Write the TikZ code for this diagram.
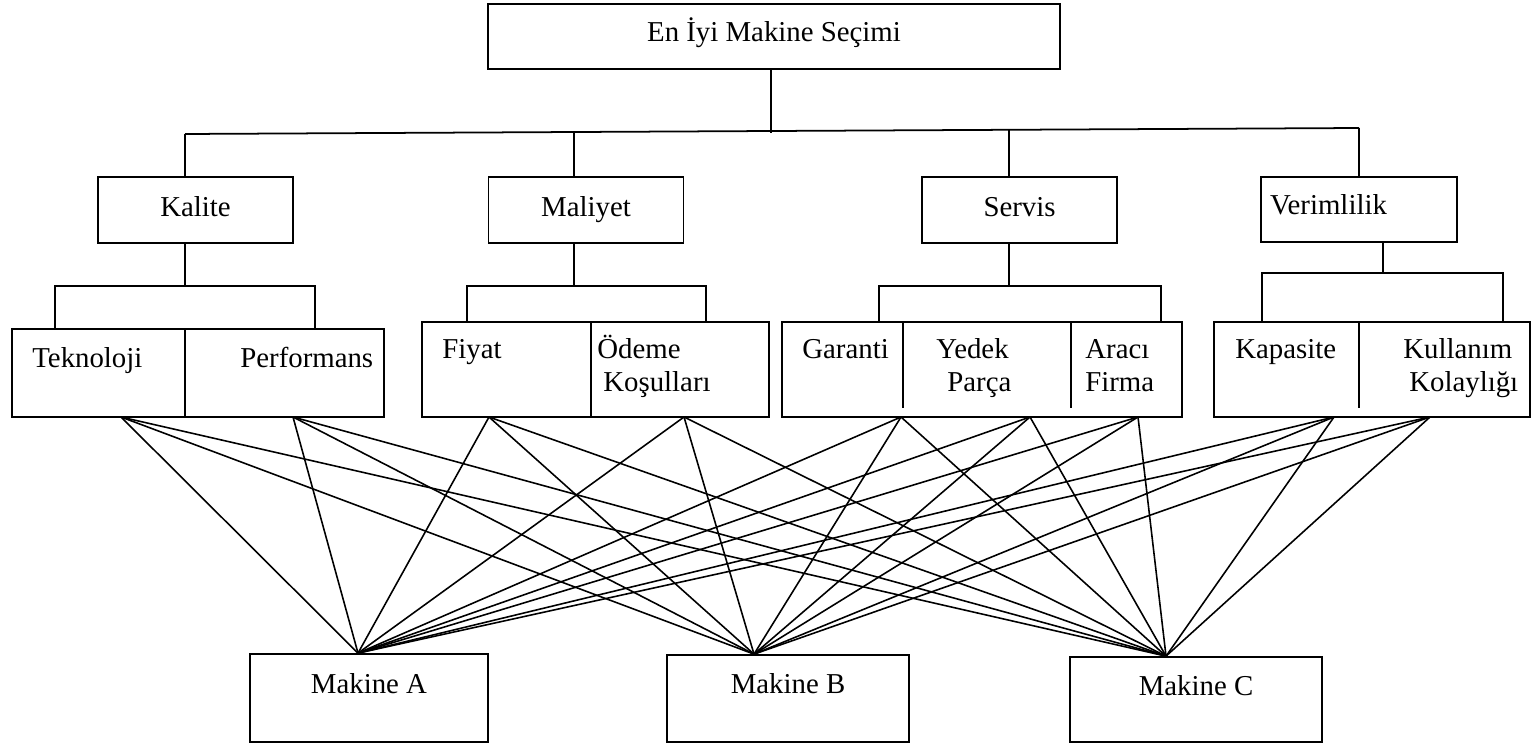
\documentclass[tikz,border=0pt]{standalone}
\usepackage{fontspec}
\setmainfont{Liberation Serif}
\usetikzlibrary{positioning}
\tikzset{box/.style = {draw, line width=1pt, inner sep=0pt,
                       font=\rmfamily\fontsize{16.4}{18.8}\selectfont}}
\tikzset{lbl/.style = {anchor=base west, inner sep=0pt,
                       font=\rmfamily\fontsize{16.4}{18.8}\selectfont}}
\tikzset{tree/.style = {line width=1pt}}
\tikzset{link/.style = {line width=0.9pt}}

\begin{document}
\begin{tikzpicture}[x=0.02cm, y=-0.02cm]
      \useasboundingbox (0, 0) rectangle (1533, 743);
      \node [box, minimum width=11.44cm, text height=0.76cm, text depth=0.54cm] (goal) at (774, 36.5) {En İyi Makine Seçimi};
      \node [box, minimum width=3.9cm, text height=0.8cm, text depth=0.52cm] (kal) at (195.5, 210) {Kalite};
      \node [box, minimum width=3.9cm, text height=0.8cm, text depth=0.52cm] (mal) at (586, 210) {Maliyet};
      \node [box, minimum width=3.9cm, text height=0.8cm, text depth=0.52cm] (ser) at (1019.5, 210) {Servis};
      \node [box, text width=3.56cm, align=left, inner xsep=0.18cm, text height=0.76cm, text depth=0.54cm] (ver) at (1359, 209.5) {Verimlilik};

      \node [box, minimum width=7.44cm, minimum height=1.76cm] (sub-kal) at (198, 373) {};
      \node [box, minimum width=6.94cm, minimum height=1.9cm] (sub-mal) at (595.5, 369.5) {};
      \node [box, minimum width=8cm, minimum height=1.9cm] (sub-ser) at (982, 369.5) {};
      \node [box, minimum width=6.32cm, minimum height=1.9cm] (sub-ver) at (1372, 369.5) {};

      \node [box, minimum width=4.76cm, text height=0.78cm, text depth=0.98cm] (mA) at (369, 698) {Makine A};
      \node [box, minimum width=4.84cm, text height=0.76cm, text depth=0.98cm] (mB) at (788, 698.5) {Makine B};
      \node [box, minimum width=5.04cm, text height=0.76cm, text depth=0.94cm] (mC) at (1196, 699.5) {Makine C};

      \coordinate (kal-t) at (185, 134);
      \coordinate (mal-t) at (574, 133);
      \coordinate (ser-t) at (1009, 130);
      \coordinate (ver-t) at (1359, 128);
      \coordinate (kal-j) at (185, 286);
      \coordinate (kal-l) at (55, 286);
      \coordinate (kal-r) at (315, 286);
      \coordinate (mal-j) at (574, 286);
      \coordinate (mal-l) at (467, 286);
      \coordinate (mal-r) at (706, 286);
      \coordinate (ser-j) at (1009, 286);
      \coordinate (ser-l) at (879, 286);
      \coordinate (ser-r) at (1161, 286);
      \coordinate (ver-j) at (1383, 273);
      \coordinate (ver-l) at (1262, 273);
      \coordinate (ver-r) at (1503, 273);
      \coordinate (goal-d) at ([xshift=-0.06cm]goal.south);

      \draw [tree] (kal-t) -- (ver-t);
      \draw [tree] (goal-d) -- (goal-d |- mal-t);
      \foreach \c in {kal, mal, ser, ver} {
        \draw [tree] (\c-t) -- (\c-t |- \c.north);
        \draw [tree] (\c-j |- \c.south) -- (\c-j);
        \draw [tree] (\c-l |- sub-\c.north) -- (\c-l) -- (\c-r) -- (\c-r |- sub-\c.north);
      }

      \draw [tree] (185, 329) -- (185, 417);
      \draw [tree] (591, 322) -- (591, 417);
      \draw [tree] (903, 322) -- (903, 408);
      \draw [tree] (1071, 322) -- (1071, 408);
      \draw [tree] (1359, 322) -- (1359, 408);

      \node [lbl] (tek) at (32, 367) {Teknoloji};
      \node [lbl] (perf) at (240, 367) {Performans};
      \node [lbl] (fiy) at (442, 358) {Fiyat};
      \node [lbl] (ode) at (597, 358) {Ödeme};
      \node [lbl] (kos) at (603, 391) {Koşulları};
      \node [lbl] (gar) at (802, 358) {Garanti};
      \node [lbl] (yed) at (936, 358) {Yedek};
      \node [lbl] (par) at (947, 391) {Parça};
      \node [lbl] (ara) at (1085, 358) {Aracı};
      \node [lbl] (fir) at (1085, 391) {Firma};
      \node [lbl] (kap) at (1235, 358) {Kapasite};
      \node [lbl] (kul) at (1403, 358) {Kullanım};
      \node [lbl] (kol) at (1409, 391) {Kolaylığı};

      \coordinate (o-tek) at (121, 417);
      \coordinate (o-perf) at (293, 417);
      \coordinate (o-fiy) at (489, 417);
      \coordinate (o-ode) at (684, 417);
      \coordinate (o-gar) at (901, 417);
      \coordinate (o-yed) at (1030, 417);
      \coordinate (o-ara) at (1138, 417);
      \coordinate (o-kap) at (1334, 417);
      \coordinate (o-kul) at (1430, 417);
      \coordinate (i-mA) at ([xshift=-0.22cm]mA.north);
      \coordinate (i-mB) at ([xshift=-0.68cm]mB.north);
      \coordinate (i-mC) at ([xshift=-0.6cm]mC.north);

      \foreach \s in {tek, perf, fiy, ode, gar, yed, ara, kap, kul}
        \foreach \m in {mA, mB, mC}
          \draw [link] (o-\s) -- (i-\m);
    \end{tikzpicture}
\end{document}
